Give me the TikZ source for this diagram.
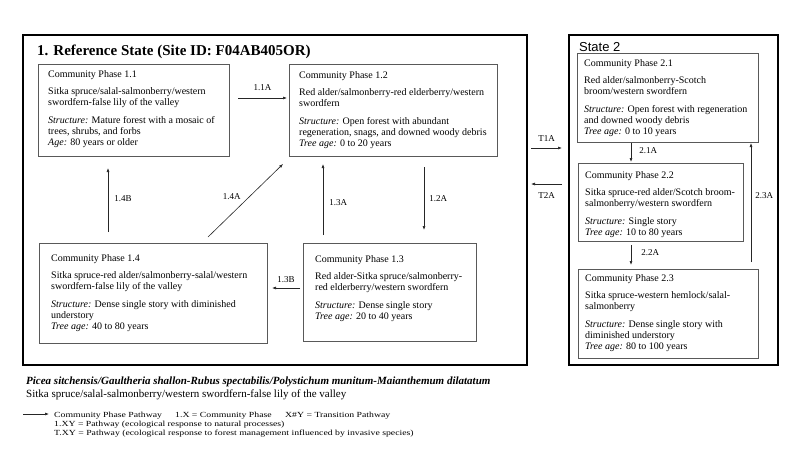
\documentclass[tikz,border=0pt]{standalone}
\usepackage{fontspec}
\setmainfont{Liberation Serif}
\newfontfamily\statefont{Liberation Sans}
\newfontfamily\legendfont[FakeStretch=1.25]{Liberation Serif}
\usetikzlibrary{arrows.meta,calc}

\tikzset{
	frame/.style={draw=black, line width=1.6pt, anchor=north west, inner sep=0pt, outer sep=0pt},
	phase/.style={draw=black!65, line width=0.6pt, anchor=north west, inner sep=0pt, outer sep=0pt},
	phasetxt/.style={anchor=north west, align=left, inner sep=0pt, font=\fontsize{10}{11}\selectfont},
	pathway/.style={draw=black!85, line width=0.6pt, -{Latex[length=4pt,width=3pt]}},
	lbl/.style={font=\fontsize{9}{10}\selectfont, inner sep=0pt},
	legend/.style={anchor=base west, inner sep=0pt, font=\legendfont\fontsize{7.8}{9}\selectfont},
}

\begin{document}
\begin{tikzpicture}[x=1pt, y=1pt]
		%%%%% START %%%%%
		\useasboundingbox (0,0) rectangle (800,-450);
		
		% states
		\node[frame, minimum width=504pt, minimum height=330pt] (ref) at (23,-35) {};
		\node[frame, minimum width=209pt, minimum height=330pt] (st2) at (569,-35) {};
		\node[anchor=base west, inner sep=0pt, font=\fontsize{15}{18}\selectfont\bfseries] (reftitle) at ([shift={(14pt,-20pt)}]ref.north west) {1. Reference State (Site ID: F04AB405OR)};
		\node[anchor=base west, inner sep=0pt, font=\statefont\fontsize{13}{15}\selectfont] (st2title) at ([shift={(10pt,-16pt)}]st2.north west) {State 2};
		
		% reference state phases
		\node[phase, minimum width=191pt, minimum height=92pt] (p11) at (38,-64) {};
		\node[phasetxt] (p11t) at ([shift={(10pt,-6pt)}]p11.north west) {Community Phase 1.1\\[6.5pt]
			Sitka spruce/salal-salmonberry/western\\ swordfern-false lily of the valley\\[6.5pt]
			\textit{Structure:} Mature forest with a mosaic of\\ trees, shrubs, and forbs\\ \textit{Age:} 80 years or older};
		
		\node[phase, minimum width=208pt, minimum height=92pt] (p12) at (289,-64) {};
		\node[phasetxt] (p12t) at ([shift={(10pt,-7pt)}]p12.north west) {Community Phase 1.2\\[6.5pt]
			Red alder/salmonberry-red elderberry/western\\ swordfern\\[6.5pt]
			\textit{Structure:} Open forest with abundant\\ regeneration, snags, and downed woody debris\\ \textit{Tree age:} 0 to 20 years};
		
		\node[phase, minimum width=173pt, minimum height=98pt] (p13) at (303,-243) {};
		\node[phasetxt] (p13t) at ([shift={(12pt,-12pt)}]p13.north west) {Community Phase 1.3\\[6.5pt]
			Red alder-Sitka spruce/salmonberry-\\ red elderberry/western swordfern\\[6.5pt]
			\textit{Structure:} Dense single story\\ \textit{Tree age:} 20 to 40 years};
		
		\node[phase, minimum width=228pt, minimum height=100pt] (p14) at (39,-243) {};
		\node[phasetxt] (p14t) at ([shift={(12pt,-11pt)}]p14.north west) {Community Phase 1.4\\[6.5pt]
			Sitka spruce-red alder/salmonberry-salal/western\\ swordfern-false lily of the valley\\[6.5pt]
			\textit{Structure:} Dense single story with diminished\\ understory\\ \textit{Tree age:} 40 to 80 years};
		
		% state 2 phases
		\node[phase, minimum width=181pt, minimum height=89pt] (p21) at (577,-53) {};
		\node[phasetxt] (p21t) at ([shift={(7pt,-6pt)}]p21.north west) {Community Phase 2.1\\[6.5pt]
			Red alder/salmonberry-Scotch\\ broom/western swordfern\\[6.5pt]
			\textit{Structure:} Open forest with regeneration\\ and downed woody debris\\ \textit{Tree age:} 0 to 10 years};
		
		\node[phase, minimum width=165pt, minimum height=78pt] (p22) at (578,-163) {};
		\node[phasetxt] (p22t) at ([shift={(7pt,-8pt)}]p22.north west) {Community Phase 2.2\\[6.5pt]
			Sitka spruce-red alder/Scotch broom-\\ salmonberry/western swordfern\\[6.5pt]
			\textit{Structure:} Single story\\ \textit{Tree age:} 10 to 80 years};
		
		\node[phase, minimum width=180pt, minimum height=89pt] (p23) at (578,-269) {};
		\node[phasetxt] (p23t) at ([shift={(7pt,-5pt)}]p23.north west) {Community Phase 2.3\\[6.5pt]
			Sitka spruce-western hemlock/salal-\\ salmonberry\\[6.5pt]
			\textit{Structure:} Dense single story with\\ diminished understory\\ \textit{Tree age:} 80 to 100 years};
		
		% pathways
		\draw[pathway] ([shift={(9pt,12pt)}]p11.east) -- ([shift={(-2pt,12pt)}]p12.west) node[lbl, midway, above=7pt] (l11a) {1.1A};
		\draw[pathway] ([shift={(135pt,-11pt)}]p12.south west) -- ([shift={(121pt,13pt)}]p13.north west) node[lbl, midway, right=5pt] (l12a) {1.2A};
		\draw[pathway] ([shift={(20pt,8pt)}]p13.north west) -- ([shift={(34pt,-8pt)}]p12.south west) node[lbl, pos=0.45, right=6pt] (l13a) {1.3A};
		\draw[pathway] ([shift={(-3pt,-45pt)}]p13.north west) -- ([shift={(5pt,-45pt)}]p14.north east) node[lbl, midway, above=5pt] (l13b) {1.3B};
		\draw[pathway] ([shift={(169pt,6pt)}]p14.north west) -- ([shift={(-6pt,-8pt)}]p12.south west) node[lbl, pos=0.56, left=9pt] (l14a) {1.4A};
		\draw[pathway] ([shift={(69pt,11pt)}]p14.north west) -- ([shift={(70pt,-12pt)}]p11.south west) node[lbl, pos=0.52, right=6pt] (l14b) {1.4B};
		
		\draw[pathway] ([shift={(4pt,-113pt)}]ref.north east) -- ([shift={(-7pt,-113pt)}]st2.north west) node[lbl, midway, above=6pt] (lt1a) {T1A};
		\draw[pathway] ([shift={(-7pt,-149pt)}]st2.north west) -- ([shift={(4pt,-149pt)}]ref.north east) node[lbl, midway, below=8pt] (lt2a) {T2A};
		
		\draw[pathway] ([shift={(54pt,-1pt)}]p21.south west) -- ([shift={(53pt,1pt)}]p22.north west) node[lbl, pos=0.4, right=8pt] (l21a) {2.1A};
		\draw[pathway] ([shift={(53pt,-4pt)}]p22.south west) -- ([shift={(53pt,4pt)}]p23.north west) node[lbl, pos=0.4, right=10pt] (l22a) {2.2A};
		\draw[pathway] ([shift={(-7pt,7pt)}]p23.north east) -- ([shift={(-7pt,-1pt)}]p21.south east) node[lbl, pos=0.56, right=4pt] (l23a) {2.3A};
		
		% site names
		\node[anchor=base west, inner sep=0pt, font=\fontsize{11}{13}\selectfont\bfseries\itshape] (sci) at (26,-384) {Picea sitchensis/Gaultheria shallon-Rubus spectabilis/Polystichum munitum-Maianthemum dilatatum};
		\node[anchor=base west, inner sep=0pt, font=\fontsize{11}{13}\selectfont] (common) at (26,-397) {Sitka spruce/salal-salmonberry/western swordfern-false lily of the valley};
		
		% legend
		\coordinate (legtail) at (23,-414);
		\node[legend] (leg1) at (54,-417) {Community Phase Pathway};
		\node[legend] (leg2) at (175,-417) {1.X = Community Phase};
		\node[legend] (leg3) at (285,-417) {X\#Y = Transition Pathway};
		\node[legend] (leg4) at (54,-426) {1.XY = Pathway (ecological response to natural processes)};
		\node[legend] (leg5) at (54,-435) {T.XY = Pathway (ecological response to forest management influenced by invasive species)};
		\draw[pathway] (legtail) -- ($(legtail -| leg1.west)+(-5,0)$);
		
		%%%%% END %%%%%
\end{tikzpicture}
\end{document}
